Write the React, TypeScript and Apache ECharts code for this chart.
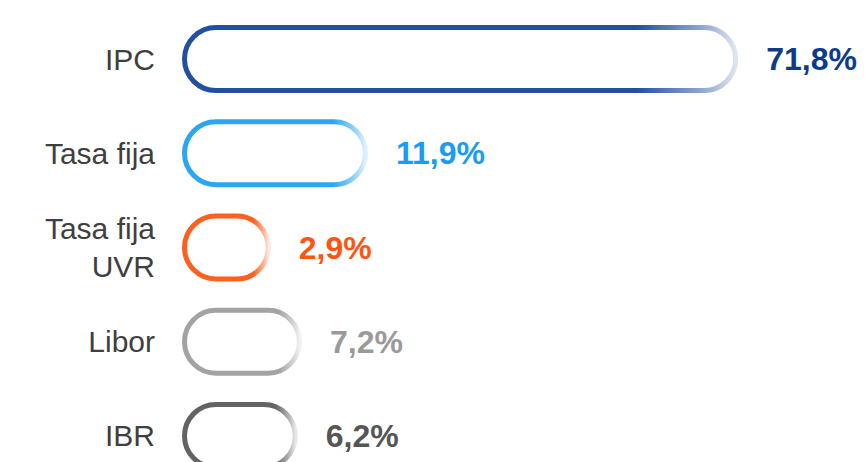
import React, { useEffect, useRef } from "react";
import * as echarts from "echarts";

// Categories (top to bottom)
const categories = ["IPC", "Tasa fija", "Tasa fija\nUVR", "Libor", "IBR"];
// Share of each indexation (%), as printed
const shares = [71.8, 11.9, 2.9, 7.2, 6.2];
// Bar lengths as drawn in the infographic (axis units 0–100, not proportional to shares)
const barLength = [92.7, 31.0, 14.8, 20.0, 19.3];
// Stroke colours of each bar and of its value label
const barColors = ["#22509f", "#2ba6f3", "#ff5f1f", "#a3a3a3", "#636363"];
const labelColors = ["#0c3b8c", "#1b9cf2", "#ff5412", "#9a9a9a", "#555555"];

function fmt(v: number): string {
  return v.toFixed(1).replace(".", ",") + "%";
}

function hexToRgba(hex: string, a: number): string {
  const h = hex.replace("#", "");
  const r = parseInt(h.slice(0, 2), 16);
  const g = parseInt(h.slice(2, 4), 16);
  const b = parseInt(h.slice(4, 6), 16);
  return `rgba(${r},${g},${b},${a})`;
}

export default function App() {
  const ref = useRef<HTMLDivElement>(null);

  useEffect(() => {
    if (!ref.current) return;
    const chart = echarts.init(ref.current, null, { renderer: "svg" });

    const data = barLength.map((len, i) => ({
      value: len,
      itemStyle: {
        color: "#ffffff",
        borderColor: new echarts.graphic.LinearGradient(0, 0, 1, 0, [
          { offset: 0, color: barColors[i] },
          { offset: 0.82, color: barColors[i] },
          { offset: 0.95, color: hexToRgba(barColors[i], 0.45) },
          { offset: 1, color: hexToRgba(barColors[i], 0.15) },
        ]),
        borderWidth: 5,
        borderRadius: 34,
      },
      label: {
        show: true,
        position: "right",
        distance: 28,
        formatter: () => fmt(shares[i]),
        color: labelColors[i],
        fontSize: 32,
        fontWeight: "bold",
        fontFamily: "'Liberation Sans', Arial, sans-serif",
      },
    }));

    chart.setOption({
      animation: false,
      backgroundColor: "#ffffff",
      grid: { left: 182, top: 12, width: 600, height: 471, containLabel: false },
      xAxis: {
        type: "value",
        min: 0,
        max: 100,
        show: false,
      },
      yAxis: {
        type: "category",
        inverse: true,
        data: categories,
        axisLine: { show: false },
        axisTick: { show: false },
        splitLine: { show: false },
        axisLabel: {
          margin: 27,
          fontSize: 30,
          lineHeight: 38,
          color: "#3f3f3f",
          fontFamily: "'Liberation Sans', Arial, sans-serif",
          align: "right",
        },
      },
      series: [
        {
          type: "bar",
          data,
          barWidth: 68,
          silent: true,
        },
      ],
    });

    return () => chart.dispose();
  }, []);

  return (
    <div
      style={{
        position: "absolute",
        left: 0,
        top: 0,
        width: 865,
        height: 462,
        overflow: "hidden",
        background: "#ffffff",
      }}
    >
      <div ref={ref} style={{ width: 865, height: 500 }} />
    </div>
  );
}
